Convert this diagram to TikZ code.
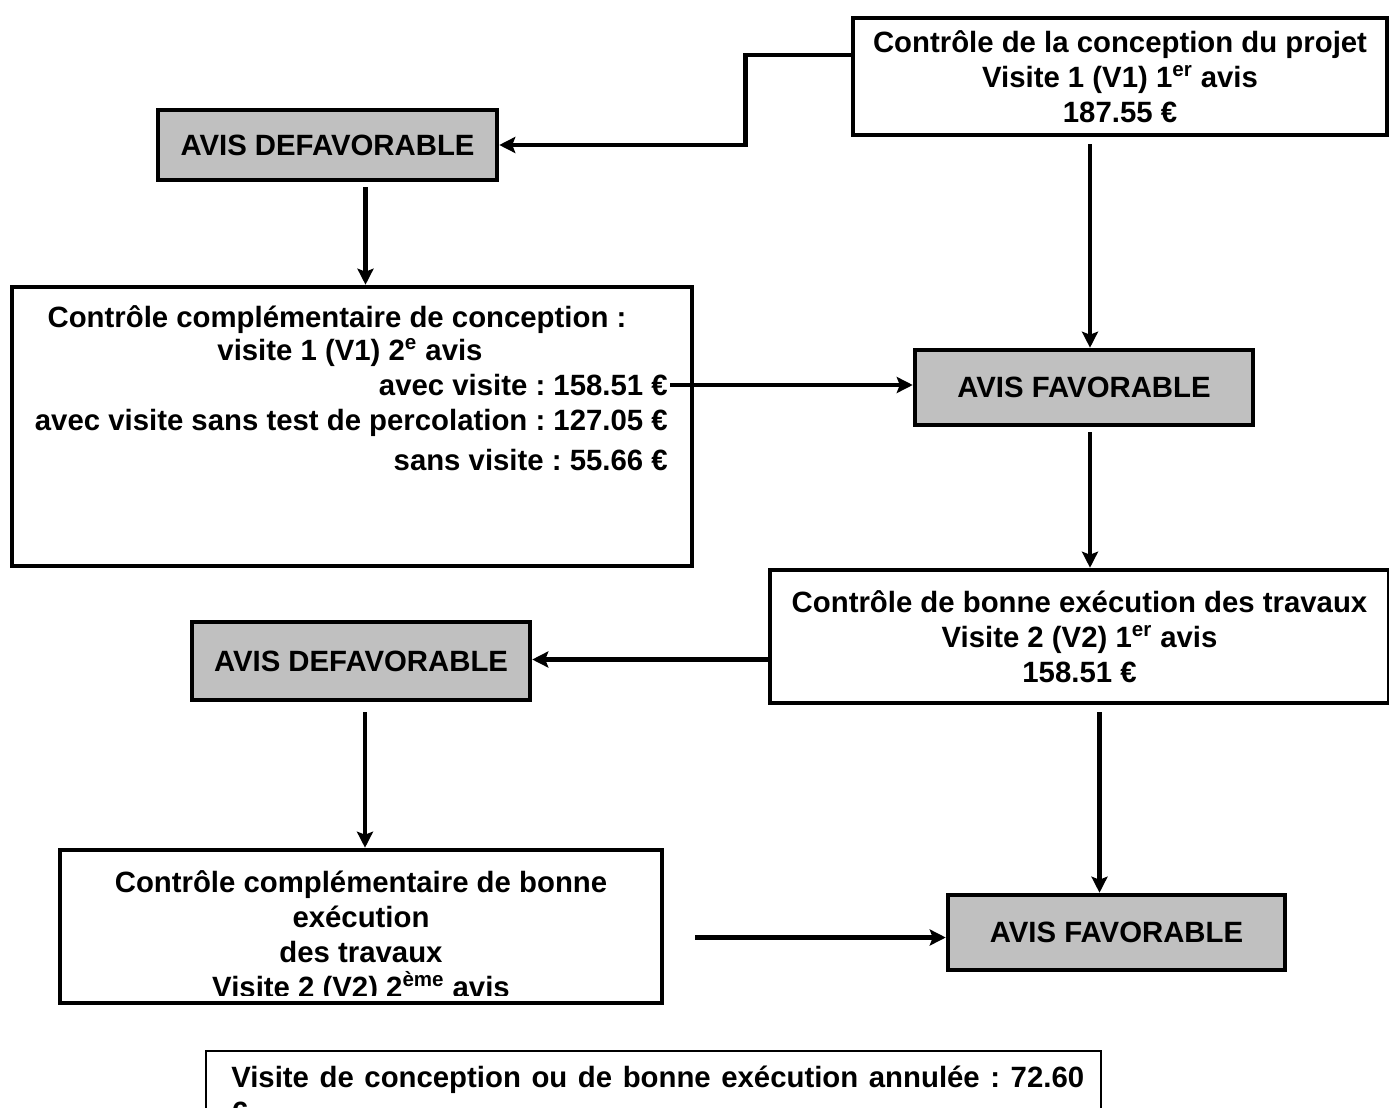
\documentclass[tikz,border=0pt]{standalone}
\usepackage{fontspec}
\setmainfont{Liberation Sans}
\frenchspacing
\usetikzlibrary{arrows.meta,calc}
\definecolor{avisgray}{HTML}{C0C0C0}

\begin{document}
\begin{tikzpicture}[x=0.02cm,y=-0.02cm,->,>={Stealth[length=3.2mm,width=3.2mm,inset=0.6mm]},line width=2.6pt,
    box node/.style={draw,-,line width=2.6pt,rectangle,inner sep=0pt,align=center,font=\bfseries\fontsize{16.7}{19.9}\selectfont},
    avis node/.style={box node,fill=avisgray}, text node/.style={inner sep=0pt,font=\bfseries\fontsize{16.7}{19.9}\selectfont}]

  \clip (0,0) rectangle (1389,1108);

  \node[box node,minimum width=10.68cm,minimum height=2.34cm] (projet) at (1120,76.5) {Contrôle de la conception du projet\\Visite 1 (V1) 1\textsuperscript{er} avis\\187.55 €};
  \node[avis node,minimum width=6.78cm,minimum height=1.4cm] (defav1) at (327.5,145) {AVIS DEFAVORABLE};

  \node[box node,minimum width=13.6cm,minimum height=5.58cm] (compl1) at (352,426.5) {};
  \node[text node] (compl1a) at (337,320) {Contrôle complémentaire de conception :};
  \node[text node] (compl1b) at (350,353) {visite 1 (V1) 2\textsuperscript{e} avis};
  \node[text node,anchor=east] (compl1c) at (670,385) {avec visite : 158.51 €};
  \node[text node,anchor=east] (compl1d) at (670,423) {avec visite sans test de percolation : 127.05 €};
  \node[text node,anchor=east] (compl1e) at (670,460) {sans visite : 55.66 €};

  \node[avis node,minimum width=6.76cm,minimum height=1.5cm] (fav1) at (1084,387.5) {AVIS FAVORABLE};
  \node[box node,minimum width=12.38cm,minimum height=2.66cm] (execution) at (1079.5,636.5) {Contrôle de bonne exécution des travaux\\Visite 2 (V2) 1\textsuperscript{er} avis\\158.51 €};
  \node[avis node,minimum width=6.76cm,minimum height=1.56cm] (defav2) at (361,661) {AVIS DEFAVORABLE};

  \node[box node,minimum width=12.04cm,minimum height=3.06cm] (compl2) at (361,926.5) {};
  \begin{scope}
    \clip ([yshift=0.2cm]compl2.south west) rectangle (compl2.north east);
    \node[text node,align=center] (compl2txt) at (361,937) {Contrôle complémentaire de bonne\\exécution\\des travaux\\Visite 2 (V2) 2\textsuperscript{ème} avis};
  \end{scope}

  \node[avis node,minimum width=6.74cm,minimum height=1.5cm] (fav2) at (1116.5,932.5) {AVIS FAVORABLE};

  % note en bas, coupee par le bord
  \node[draw,-,line width=1.2pt,minimum width=17.9cm,minimum height=2cm,anchor=north west,inner sep=0pt] (annulee) at (205,1050) {};
  \node[text node,anchor=north west,align=left] (annuleetxt) at (229,1064) {\makebox[17.06cm][s]{Visite de conception ou de bonne exécution annulée : 72.60}\\€};

  % connecteurs
  \draw ([yshift=0.43cm]projet.west) -- ++(-105,0) coordinate (coude) -- (coude |- defav1.east) -- (defav1.east);
  \coordinate (d1) at ($(defav1.south)+(38,5)$);
  \draw (d1) -- (d1 |- compl1.north);
  \draw (compl1c.east) -- (compl1c.east -| fav1.west);
  \coordinate (p1) at ($(projet.south)+(-30,7)$);
  \draw (p1) -- (p1 |- fav1.north);
  \coordinate (f1) at ($(fav1.south)+(6,5)$);
  \draw (f1) -- (f1 |- execution.north);
  \coordinate (e1) at ($(execution.west)+(0,23)$);
  \draw (e1) -- (e1 -| defav2.east);
  \coordinate (d2) at ($(defav2.south)+(4,10)$);
  \draw (d2) -- (d2 |- compl2.north);
  \coordinate (c2) at ($(compl2.east)+(31,11)$);
  \draw (c2) -- (c2 -| fav2.west);
  \coordinate (e2) at ($(execution.south)+(20,7)$);
  \draw (e2) -- (e2 |- fav2.north);

\end{tikzpicture}
\end{document}
